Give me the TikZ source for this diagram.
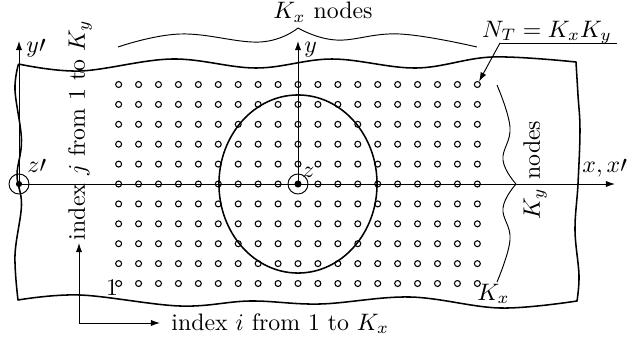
\documentclass[tikz,border=0pt]{standalone}
\usetikzlibrary{arrows.meta}
\begin{document}
\begin{tikzpicture}[x=0.42pt,y=-0.42pt,
  thickline/.style={line width=0.65pt,line join=round},
  thinline/.style={line width=0.4pt},
  gridpt/.style={circle,draw,line width=0.45pt,minimum size=2.5pt,inner sep=0pt},
  axcirc/.style={circle,draw,line width=0.4pt,minimum size=8.4pt,inner sep=0pt},
  axdot/.style={circle,fill,minimum size=2.6pt,inner sep=0pt},
  arr/.style={-{Latex[length=3.8pt,width=2.6pt]}},
  lbl/.style={inner sep=0pt}]
\useasboundingbox (0,0) rectangle (627,345);
% grid of nodes
\foreach \i in {1,...,19}{
  \foreach \j in {1,...,11}{
    \node[gridpt] (n-\i-\j) at ({298+(\i-10)*19.93},{184+(6-\j)*19.9}) {};
  }
}
% outer wavy boundary
\draw[thickline] plot[smooth,tension=0.6] coordinates {(18.5,64) (80,71) (172,59) (256,68) (332,59) (416,68) (492,57) (576,62)}
  -- plot[smooth,tension=0.6] coordinates {(576,62) (578,95) (580,130) (578,184) (575,230) (579,275) (577,301)}
  -- plot[smooth,tension=0.6] coordinates {(577,301) (500,308) (410,297) (320,304) (250,301) (180,306) (80,295) (18,300)}
  -- plot[smooth,tension=0.6] coordinates {(18,300) (15,255) (21.5,205) (17,175) (21.5,140) (15,90) (18.5,64)};
% ellipse
\node[axcirc] (z) at (298,184) {};
\node[axdot] (zdot) at (z.center) {};
\node[axcirc] (zp) at (19,184) {};
\node[axdot] (zpdot) at (zp.center) {};
\draw[thickline] (z.center) ellipse [x radius=33.2pt, y radius=37.4pt];
% axes
\coordinate (xend) at (615,184);
\coordinate (yend) at (298,41);
\coordinate (ypend) at (19,41);
\draw[thinline,arr] (zp.center) -- (xend);
\draw[thinline,arr] (z.center) -- (yend);
\draw[thinline,arr] (zp.center) -- (ypend);
\node[lbl,anchor=base west] (ylbl) at (304,52) {$y$};
\node[lbl,anchor=base west] (yplbl) at (26,52) {$y\prime$};
\node[lbl,anchor=base west] (zlbl) at (302,177) {$z$};
\node[lbl,anchor=base west] (zplbl) at (27,172) {$z\prime$};
\node[lbl,anchor=base west] (xlbl) at (582,172) {$x,x\prime$};
% top brace
\draw[thinline] plot[smooth,tension=0.7] coordinates {(118,47) (180,34) (260,42) (298,28)};
\draw[thinline] plot[smooth,tension=0.7] coordinates {(298,28) (336,40) (400,34) (477,47)};
\node[lbl,anchor=base] (kxnodes) at (323,18.5) {$K_x$ nodes};
% right brace
\draw[thinline] plot[smooth,tension=0.7] coordinates {(497,85) (510,127) (503,160) (516,184)};
\draw[thinline] plot[smooth,tension=0.7] coordinates {(516,184) (503,208) (510,240) (497,282)};
\node[lbl,anchor=base,rotate=90] (kynodes) at (540,170) {$K_y$ nodes};
% N_T label
\node[lbl,anchor=base] (NT) at (547,37) {$N_T=K_xK_y$};
\coordinate (ulL) at (500,43);
\coordinate (ulR) at (617,43);
\draw[thinline] (ulR) -- (ulL);
\draw[thinline,arr] (ulL) -- (n-19-11);
% index labels
\coordinate (corner) at (79,323);
\coordinate (jtip) at (79,243);
\coordinate (itip) at (160,323);
\draw[thinline,arr] (corner) -- (jtip);
\draw[thinline,arr] (corner) -- (itip);
\node[lbl,anchor=base west] (ilbl) at (171,330) {index $i$ from 1 to $K_x$};
\node[lbl,anchor=base,rotate=90] (jlbl) at (85,130) {index $j$ from 1 to $K_y$};
\node[lbl,anchor=base] (one) at (112,295) {1};
\node[lbl,anchor=base west] (kx) at (477,300) {$K_x$};
\end{tikzpicture}
\end{document}
